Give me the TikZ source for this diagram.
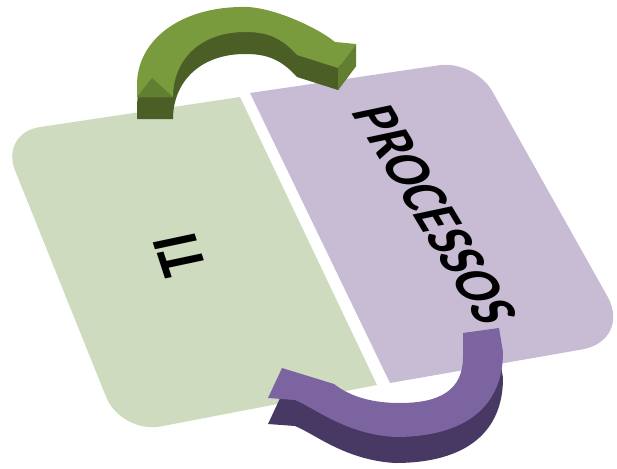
\documentclass[tikz,border=0pt]{standalone}
\usepackage{fontspec}
\setmainfont{Carlito}
\usepackage{xcolor}
\usepackage{tikz}
\definecolor{tigreen}{RGB}{207,219,191}
\definecolor{procpurple}{RGB}{200,188,213}
\definecolor{greentop}{RGB}{122,154,62}
\definecolor{greenmid}{RGB}{98,126,48}
\definecolor{greenside}{RGB}{74,94,38}
\definecolor{purpletop}{RGB}{124,100,160}
\definecolor{purpleside}{RGB}{72,56,100}

% outlines of the two bent arrows (top faces)
\newcommand{\greenarc}{(137,97) -- (137,85) .. controls (137,40) and (180,8) .. (240,7)
  .. controls (270,5) and (318,28) .. (335,42) -- (356,44) -- (338,68) -- (297,55)
  .. controls (280,36) and (265,32) .. (245,32) .. controls (200,32) and (173,60) .. (173,97) -- cycle}
\newcommand{\purplearc}{(499,328) -- (503,352) .. controls (503,407) and (465,437) .. (395,437)
  .. controls (345,434) and (315,408) .. (295,400) -- (268,398) -- (282,368) -- (334,384)
  .. controls (352,398) and (375,403) .. (400,403) .. controls (440,403) and (463,390) .. (463,357)
  -- (463,333) -- cycle}

\begin{document}
\begin{tikzpicture}[x=1pt, y=-1pt,
tibox/.style={fill=tigreen},
procbox/.style={fill=procpurple},
boxlabel/.style={inner sep=0pt, text=black},
greenface/.style={fill=greentop},
greenwall/.style={fill=greenside, yshift=-22pt},
purpleface/.style={fill=purpletop},
purplewall/.style={fill=purpleside, yshift=-26pt}
]
\useasboundingbox (0,0) rectangle (617,468);

% the two halves
\fill[tibox] (240,97) -- (377,385) -- (160.3,426.5) .. controls (138.7,430.6) and (114.3,417.3) .. (106.1,396.9)
  -- (14.9,170.1) .. controls (6.7,149.7) and (17.8,130.3) .. (39.6,127.1) -- cycle;
\fill[procbox] (250,93) -- (439.4,65.2) .. controls (459,62.3) and (482.8,74.2) .. (492.4,91.5)
  -- (607.5,296.5) .. controls (621,320.4) and (609.9,344.2) .. (582.9,349.3) -- (390,383) -- cycle;

% labels
\node[boxlabel, font=\fontsize{66}{66}\selectfont\bfseries, cm={-0.263,0.808,-0.978,-0.208,(0,0)}] (ti) at (180,255) {TI};
\node[boxlabel, font=\fontsize{62}{62}\selectfont\bfseries, cm={0.427,-0.711,0.978,0.208,(0,0)}] (proc) at (435,215) {PROCESSOS};

% green arrow
\fill[greenwall] \greenarc;
\fill[greenface] \greenarc;
\fill[greenmid] (338,68) -- (356,44) -- (356,66) -- (338,90) -- cycle;
\fill[greenmid] (137,97) -- (152,78) -- (173,97) -- cycle;

% purple arrow
\fill[purplewall] \purplearc;
\fill[purpleface] \purplearc;
\end{tikzpicture}
\end{document}
